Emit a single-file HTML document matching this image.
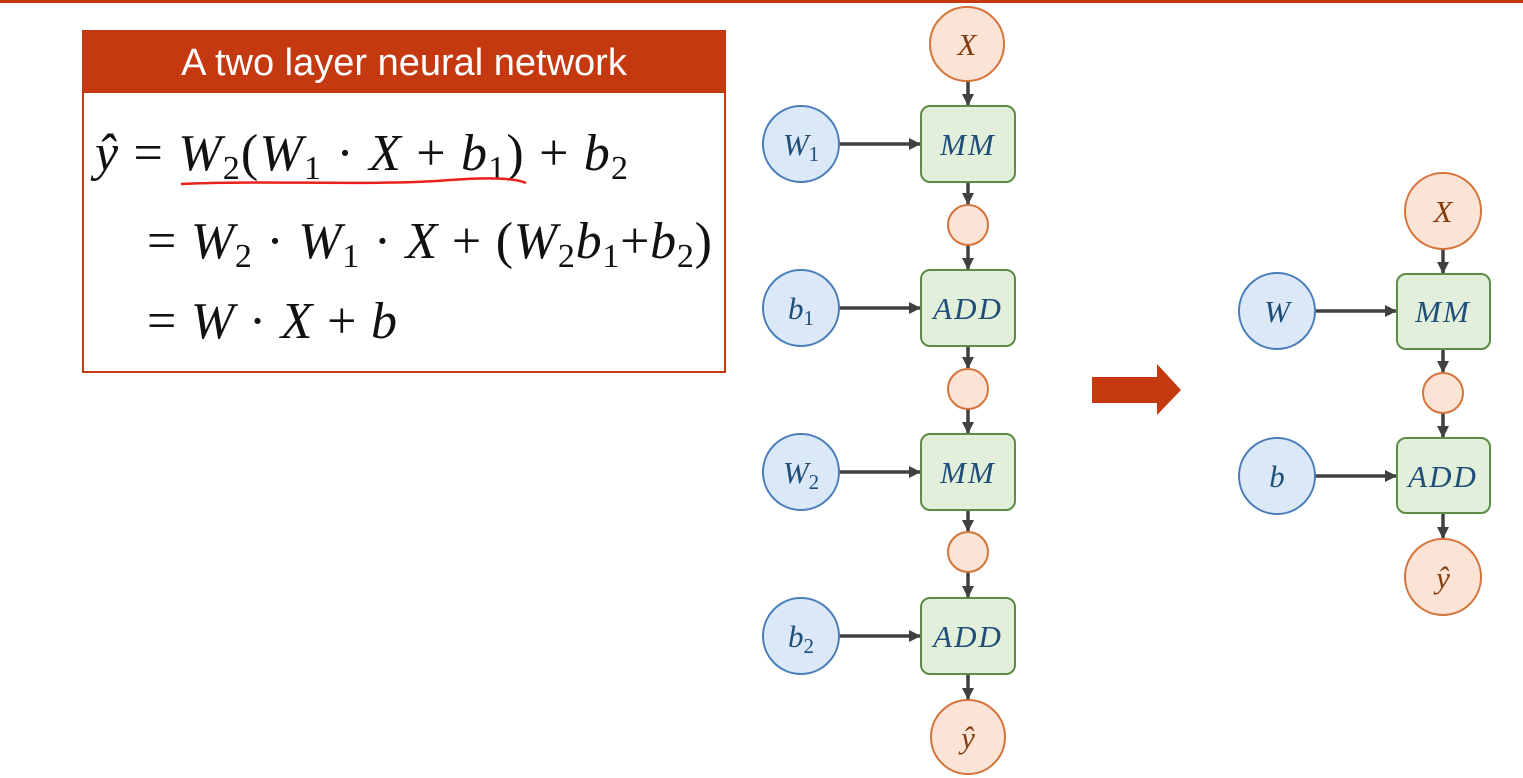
<!DOCTYPE html>
<html><head><meta charset="utf-8"><style>
html,body{margin:0;padding:0;background:#fff;}
svg{display:block;}
.m{font-family:"Liberation Serif",serif;font-style:italic;}
.n{font-family:"Liberation Serif",serif;font-style:normal;}
</style></head><body>
<svg width="1523" height="778" viewBox="0 0 1523 778" xmlns="http://www.w3.org/2000/svg">
<defs>
<marker id="ah2" markerWidth="12" markerHeight="12" refX="11" refY="6" orient="auto" markerUnits="userSpaceOnUse">
<path d="M0,0 L12,6 L0,12 z" fill="#404040"/></marker>
</defs>
<rect x="0" y="0" width="1523" height="3" fill="#C4390F"/>
<rect x="83" y="31" width="642" height="341" fill="#fff" stroke="#C4390F" stroke-width="2"/>
<rect x="82" y="30" width="644" height="63" fill="#C4390F"/>
<text x="404" y="75" text-anchor="middle" fill="#fff" font-family="Liberation Sans, sans-serif" font-size="38">A two layer neural network</text>
<g class="m" font-size="52" fill="#111">
<text x="95" y="170" textLength="533" lengthAdjust="spacing">ŷ <tspan class="n">=</tspan> W<tspan font-size="34" dy="9" class="n">2</tspan><tspan dy="-9" class="n">(</tspan>W<tspan font-size="34" dy="9" class="n">1</tspan><tspan dy="-9" class="n"> · </tspan>X<tspan class="n"> + </tspan>b<tspan font-size="34" dy="9" class="n">1</tspan><tspan dy="-9" class="n">) + </tspan>b<tspan font-size="34" dy="9" class="n">2</tspan></text>
<text x="147" y="258" textLength="565" lengthAdjust="spacing"><tspan class="n">= </tspan>W<tspan font-size="34" dy="9" class="n">2</tspan><tspan dy="-9" class="n"> · </tspan>W<tspan font-size="34" dy="9" class="n">1</tspan><tspan dy="-9" class="n"> · </tspan>X<tspan class="n"> + (</tspan>W<tspan font-size="34" dy="9" class="n">2</tspan><tspan dy="-9">b</tspan><tspan font-size="34" dy="9" class="n">1</tspan><tspan dy="-9" class="n">+</tspan>b<tspan font-size="34" dy="9" class="n">2</tspan><tspan dy="-9" class="n">)</tspan></text>
<text x="147" y="338" textLength="250" lengthAdjust="spacing"><tspan class="n">= </tspan>W<tspan class="n"> · </tspan>X<tspan class="n"> + </tspan>b</text>
</g>
<path d="M181,184 C260,180 380,186 450,180 C490,177 515,178 526,183" stroke="#E8211C" stroke-width="2.5" fill="none"/>
<path d="M1092,377 L1157,377 L1157,364 L1181,390 L1157,415 L1157,403 L1092,403 z" fill="#C4390F"/>
<g stroke="#404040" stroke-width="3.5" fill="none">
<line x1="968" y1="81" x2="968" y2="105" marker-end="url(#ah2)"/>
<line x1="968" y1="183" x2="968" y2="204" marker-end="url(#ah2)"/>
<line x1="968" y1="245" x2="968" y2="269" marker-end="url(#ah2)"/>
<line x1="968" y1="347" x2="968" y2="368" marker-end="url(#ah2)"/>
<line x1="968" y1="409" x2="968" y2="433" marker-end="url(#ah2)"/>
<line x1="968" y1="511" x2="968" y2="531" marker-end="url(#ah2)"/>
<line x1="968" y1="572" x2="968" y2="597" marker-end="url(#ah2)"/>
<line x1="968" y1="675" x2="968" y2="699" marker-end="url(#ah2)"/>
<line x1="839" y1="144" x2="920" y2="144" marker-end="url(#ah2)"/>
<line x1="839" y1="308" x2="920" y2="308" marker-end="url(#ah2)"/>
<line x1="839" y1="472" x2="920" y2="472" marker-end="url(#ah2)"/>
<line x1="839" y1="636" x2="920" y2="636" marker-end="url(#ah2)"/>
<line x1="1443" y1="249" x2="1443" y2="273" marker-end="url(#ah2)"/>
<line x1="1443" y1="350" x2="1443" y2="372" marker-end="url(#ah2)"/>
<line x1="1443" y1="413" x2="1443" y2="437" marker-end="url(#ah2)"/>
<line x1="1443" y1="514" x2="1443" y2="538" marker-end="url(#ah2)"/>
<line x1="1315" y1="311" x2="1396" y2="311" marker-end="url(#ah2)"/>
<line x1="1315" y1="476" x2="1396" y2="476" marker-end="url(#ah2)"/>
</g>
<g fill="#FBE3D6" stroke="#D5733A" stroke-width="2">
<circle cx="967" cy="44" r="37"/>
<circle cx="968" cy="225" r="20"/>
<circle cx="968" cy="389" r="20"/>
<circle cx="968" cy="552" r="20"/>
<circle cx="968" cy="737" r="37"/>
<circle cx="1443" cy="211" r="38"/>
<circle cx="1443" cy="393" r="20"/>
<circle cx="1443" cy="577" r="38"/>
</g>
<g fill="#DAE8F7" stroke="#4A7EBB" stroke-width="2">
<circle cx="801" cy="144" r="38"/>
<circle cx="801" cy="308" r="38"/>
<circle cx="801" cy="472" r="38"/>
<circle cx="801" cy="636" r="38"/>
<circle cx="1277" cy="311" r="38"/>
<circle cx="1277" cy="476" r="38"/>
</g>
<g fill="#E2EFDA" stroke="#5E8C45" stroke-width="2">
<rect x="921" y="106" width="94" height="76" rx="9"/>
<rect x="921" y="270" width="94" height="76" rx="9"/>
<rect x="921" y="434" width="94" height="76" rx="9"/>
<rect x="921" y="598" width="94" height="76" rx="9"/>
<rect x="1397" y="274" width="93" height="75" rx="9"/>
<rect x="1397" y="438" width="93" height="75" rx="9"/>
</g>
<g class="m" font-size="31" text-anchor="middle">
<g fill="#843C0C">
<text x="967" y="55">X</text>
<text x="968" y="748">ŷ</text>
<text x="1443" y="222">X</text>
<text x="1443" y="588">ŷ</text>
</g>
<g fill="#1F4E79">
<text x="968" y="155" letter-spacing="2">MM</text>
<text x="968" y="319" letter-spacing="2">ADD</text>
<text x="968" y="483" letter-spacing="2">MM</text>
<text x="968" y="647" letter-spacing="2">ADD</text>
<text x="1443" y="322" letter-spacing="2">MM</text>
<text x="1443" y="487" letter-spacing="2">ADD</text>
<text x="801" y="155">W<tspan class="n" font-size="21" dy="6">1</tspan></text>
<text x="801" y="319">b<tspan class="n" font-size="21" dy="6">1</tspan></text>
<text x="801" y="483">W<tspan class="n" font-size="21" dy="6">2</tspan></text>
<text x="801" y="647">b<tspan class="n" font-size="21" dy="6">2</tspan></text>
<text x="1277" y="322">W</text>
<text x="1277" y="487">b</text>
</g>
</g>
</svg>
</body></html>
